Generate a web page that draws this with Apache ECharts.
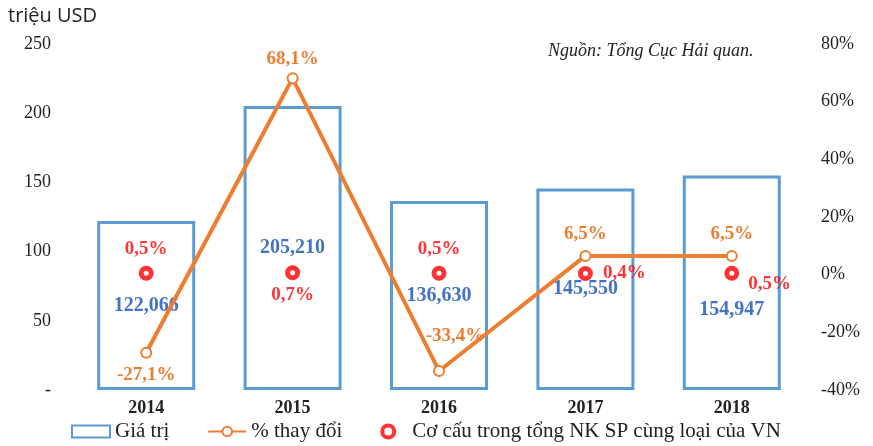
<!DOCTYPE html>
<html>
<head>
<meta charset="utf-8">
<script src="https://cdn.jsdelivr.net/npm/echarts@6/dist/echarts.min.js"></script>
<style>
html,body{margin:0;padding:0;background:#fff;}
#main{width:873px;height:446px;}
</style>
</head>
<body>
<div id="main"></div>
<script>
var years = ['2014', '2015', '2016', '2017', '2018'];
var giaTri = [122.066, 205.210, 136.630, 145.550, 154.947];   // triệu USD
var thayDoi = [-27.1, 68.1, -33.4, 6.5, 6.5];                  // %
var coCau = [0.5, 0.7, 0.5, 0.4, 0.5];                         // %

var leftTicks = [0, 50, 100, 150, 200, 250];
var rightTicks = [-40, -20, 0, 20, 40, 60, 80];

function pct(v) {
	return v.toFixed(1).replace('.', ',') + '%';
}

var serif = '"Liberation Serif", "DejaVu Serif", serif';

// nhãn riêng cho từng điểm
var lineLabelPos = [
	{ position: 'bottom', distance: 7 },
	{ position: 'top', distance: 4 },
	{ position: 'top', distance: 6, offset: [16, -13] },
	{ position: 'top', distance: 6 },
	{ position: 'top', distance: 6 }
];
var dotLabelPos = [
	{ position: 'top', distance: 7 },
	{ position: 'bottom', distance: 5 },
	{ position: 'top', distance: 7 },
	{ position: 'right', distance: 10 },
	{ position: 'right', distance: 9, offset: [0, 11] }
];

var myChart = echarts.init(document.getElementById('main'));

var option = {
	animation: false,
	title: [{
		text: 'triệu USD',
		left: 3,
		top: 1,
		textStyle: { fontFamily: '"Open Sans", sans-serif', fontWeight: 'normal', fontSize: 20, color: '#222' }
	}, {
		text: 'Nguồn: Tổng Cục Hải quan.',
		left: 543,
		top: 37,
		textStyle: { fontFamily: serif, fontStyle: 'italic', fontWeight: 'normal', fontSize: 18, color: '#222' }
	}],
	legend: {
		left: 66,
		bottom: -1,
		itemGap: 38,
		itemWidth: 38,
		itemHeight: 12,
		textStyle: { fontFamily: serif, fontSize: 21, color: '#222' },
		data: [
			{ name: 'Giá trị', icon: 'rect' },
			{ name: '% thay đổi' },
			{ name: 'Cơ cấu trong tổng NK SP cùng loại của VN', icon: 'circle', itemStyle: { borderWidth: 4 } }
		]
	},
	grid: { left: 73, right: 68, top: 44, bottom: 56 },
	xAxis: {
		type: 'category',
		data: years,
		axisLine: { show: false },
		axisTick: { show: false },
		axisLabel: { fontFamily: serif, fontWeight: 'bold', fontSize: 18, color: '#222', margin: 9 }
	},
	yAxis: [{
		type: 'value',
		min: leftTicks[0],
		max: leftTicks[leftTicks.length - 1],
		interval: 50,
		splitLine: { show: false },
		axisLine: { show: false },
		axisLabel: {
			fontFamily: serif, fontSize: 18, color: '#222', margin: 22,
			formatter: function (v) { return v === 0 ? '-' : v; }
		}
	}, {
		type: 'value',
		min: rightTicks[0],
		max: rightTicks[rightTicks.length - 1],
		interval: 20,
		splitLine: { show: false },
		axisLine: { show: false },
		axisLabel: { fontFamily: serif, fontSize: 18, color: '#222', margin: 16, formatter: '{value}%' }
	}],
	series: [{
		name: 'Giá trị',
		type: 'bar',
		barWidth: 98,
		data: giaTri.map(function (v, i) {
			return {
				value: v,
				label: i === 4 ? { offset: [0, 27] } : {}
			};
		}),
		itemStyle: { color: 'rgba(255,255,255,0)', borderColor: '#5B9BD5', borderWidth: 3 },
		label: {
			show: true,
			position: 'inside',
			fontFamily: serif, fontWeight: 'bold', fontSize: 20, color: '#4472C4',
			formatter: function (p) { return p.value.toFixed(3).replace('.', ','); }
		}
	}, {
		name: '% thay đổi',
		type: 'line',
		yAxisIndex: 1,
		data: thayDoi.map(function (v, i) {
			return { value: v, label: lineLabelPos[i] };
		}),
		symbol: 'emptyCircle',
		symbolSize: 10,
		lineStyle: { color: '#ED7D31', width: 4 },
		itemStyle: { color: '#ED7D31', borderWidth: 2 },
		label: {
			show: true,
			fontFamily: serif, fontWeight: 'bold', fontSize: 19, color: '#ED7D31',
			formatter: function (p) { return pct(p.value); }
		},
		z: 3
	}, {
		name: 'Cơ cấu trong tổng NK SP cùng loại của VN',
		type: 'scatter',
		yAxisIndex: 1,
		data: coCau.map(function (v, i) {
			return { value: v, label: dotLabelPos[i] };
		}),
		symbol: 'circle',
		symbolSize: 10,
		itemStyle: { color: '#fff', borderColor: '#FF0000', borderWidth: 5 },
		label: {
			show: true,
			fontFamily: serif, fontWeight: 'bold', fontSize: 19, color: '#FF0000',
			formatter: function (p) { return pct(p.value); }
		},
		z: 4
	}]
};

myChart.setOption(option);
</script>
</body>
</html>
